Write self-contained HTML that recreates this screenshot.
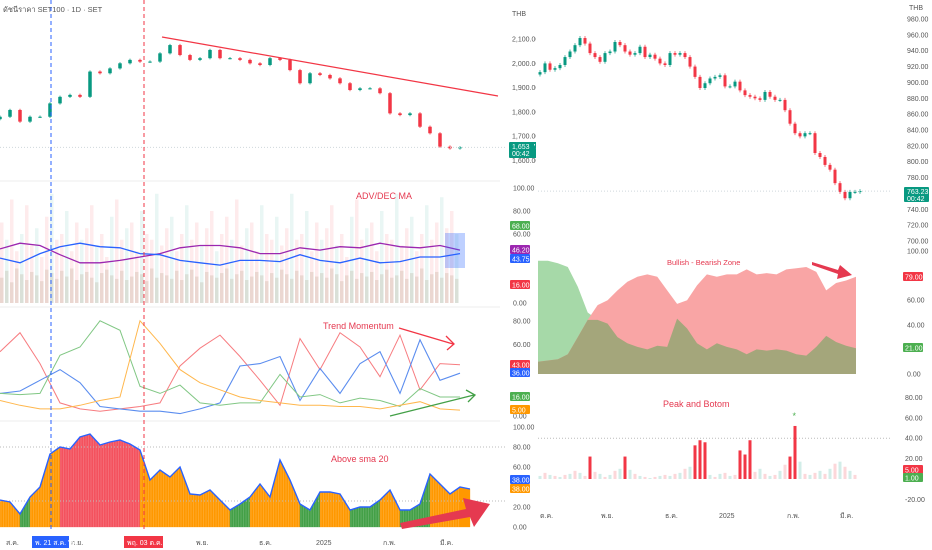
<!DOCTYPE html>
<html><head><meta charset="utf-8">
<style>
html,body{margin:0;padding:0;background:#fff;}
svg{display:block;font-family:"Liberation Sans","Noto Sans CJK SC","Noto Sans CJK JP",sans-serif;}
.ax{font-size:7px;fill:#555;}
.ttl{font-size:7.5px;fill:#555;}
.pl{font-size:9px;fill:#e53950;}
</style></head>
<body>
<svg id="c" width="932" height="550" viewBox="0 0 932 550"></svg>
<script>
// ---------- LEFT (SET100) DATA ----------
const leftCloses=[1780,1808,1760,1780,1780,1835,1862,1870,1862,1966,1959,1979,2000,2014,2007,2007,2041,2075,2034,2014,2021,2055,2021,2021,2014,2000,1993,2021,2014,1972,1918,1959,1952,1938,1918,1890,1897,1897,1877,1794,1787,1794,1739,1712,1657,1650,1654];
const leftPriceTicks=[2100,2000,1900,1800,1700,1600];
const advVals=[70,55,90,45,60,85,50,65,40,75,95,55,60,80,45,70,55,65,85,50,60,40,75,90,55,65,70,45,80,60,55,95,50,65,75,45,60,85,55,70,50,65,80,45,60,75,55,90,50,65,70,45,85,60,55,75,50,65,95,55,60,80,45,70,55,65,85,50,60,40,75,90,55,65,70,45,80,60,55,95,50,65,75,45,60,85,55,70,92,65,80,60];
const advBase=[22,28,18,30,25,20,27,24,19,29,26,21,28,23,30,20,25,27,22,18,26,29,24,21,28,20,23,27,25,19,30,22,26,24,21,28,20,25,29,23,18,27,24,22,26,30,21,25,28,20,23,27,24,19,26,22,29,25,21,28,24,20,27,23,26,22,30,25,19,24,28,21,26,23,27,20,25,29,22,24,28,21,26,23,30,20,25,27,22,26,24,21];
const advPurple=[47,52,50,42,35,35,37,40,43,48,50,50,48,43,43,48,46,49,48,52,49,48,50,46];
const advBlue=[39,35,43,49,52,49,48,43,42,37,35,33,37,37,36,42,37,35,39,35,36,40,40,43];
const tmRed=[54,70,44,11,6,4,6,8,11,42,57,68,50,30,9,65,39,70,58,33,68,22,44,43];
const tmBlue=[19,21,30,39,28,8,6,4,4,2,6,11,42,44,50,13,40,19,44,54,19,64,30,36];
const tmGreen=[19,18,19,51,58,80,72,25,19,26,11,9,11,11,35,16,18,11,15,13,8,23,16,16];
const tmOrange=[13,9,6,6,9,13,16,80,61,39,28,22,16,13,11,9,9,8,8,6,9,12,6,5];
const asmaVals=[27,25,13,30,40,73,80,78,90,93,82,85,87,83,77,47,57,50,60,33,32,37,27,17,23,30,43,30,67,47,23,17,35,35,33,17,20,20,27,37,17,17,23,53,43,33,40,38];
// ---------- RIGHT (SET50) DATA ----------
const rightCloses=[913,924,916,918,922,932,939,947,956,949,937,932,926,937,939,951,947,939,935,937,945,932,935,930,924,922,937,935,937,932,920,907,893,899,905,907,909,895,895,901,890,884,882,880,878,888,882,878,878,865,848,836,832,836,836,811,806,796,790,773,762,754,762,762,763];
const rightPriceTicks=[980,960,940,920,900,880,860,840,820,800,780,740,720,700];
const bullish=[92,92,90,87,71,50,44,41,30,25,22,20,23,22,45,37,25,20,25,22,20,16,20,19,20,19,16,15,22,31,26,23,21];
const bearish=[10,11,12,16,30,44,56,60,68,75,79,81,79,68,57,60,72,81,79,81,81,85,81,82,81,85,86,87,83,68,74,76,79];
const pbVals=[3,6,4,3,2,4,5,8,6,3,22,7,5,2,4,8,10,22,9,5,3,2,1,2,3,4,3,5,6,10,12,33,38,36,4,2,5,6,3,4,28,24,38,7,10,5,3,4,8,14,22,52,17,5,4,6,8,5,10,15,17,12,8,4];

const S=document.getElementById('c');
const NS='http://www.w3.org/2000/svg';
function mk(tag,attrs,parent){const e=document.createElementNS(NS,tag);for(const k in attrs)e.setAttribute(k,attrs[k]);(parent||S).appendChild(e);return e;}
function txt(x,y,s,cls,extra){const e=mk('text',Object.assign({x:x,y:y,class:cls},extra||{}));e.textContent=s;return e;}
function wtxt(x,y,s){const e=mk('text',{x:x,y:y,style:'font-size:7px;fill:#ffffff'});e.textContent=s;return e;}
function fmt(v){return v.toFixed(2).replace(/\B(?=(\d{3})+(?!\d))/g,',');}
const yLP=v=>39+(2100-v)*0.243;
const yAD=v=>303-v*1.15;
const yTM=v=>416-v*1.19;
const yAS=v=>527-v*1.0;
const yRP=v=>19+(980-v)*0.793;
const yBB=v=>374-v*1.23;
const yPB=v=>479-v*1.02;

[[0,181,500],[0,307,500],[0,421,500]].forEach(a=>{const l=mk('line',{x1:a[0],x2:a[2],y1:a[1],y2:a[1],stroke:'#eeeeee'});});
[[538,247,890],[538,392,890]].forEach(a=>{const l=mk('line',{x1:a[0],x2:a[2],y1:a[1],y2:a[1],stroke:'#eeeeee'});});

let t=txt(3,12,'ดัชนีราคา SET100 · 1D · SET','ttl');
t=txt(541,12,'ดัชนีราคา SET50 · 1D · SET','ttl');

// ---------- LEFT price ----------
const gL=mk('g',{});
mk('line',{x1:0,x2:505,y1:yLP(1654),y2:yLP(1654),stroke:'#cfd8dc','stroke-dasharray':'1,2'});
leftCloses.forEach((c,i)=>{
  const o=i?leftCloses[i-1]:c-10;const x=i*10;const up=c>=o;const col=up?'#089981':'#f23645';
  const hi=Math.max(o,c)+5,lo=Math.min(o,c)-5;
  mk('line',{x1:x,x2:x,y1:yLP(hi),y2:yLP(lo),stroke:col,'stroke-width':0.8},gL);
  const r=mk('rect',{x:x-1.75,y:yLP(Math.max(o,c)),width:3.5,height:Math.max(1,Math.abs(yLP(o)-yLP(c))),fill:col},gL);
  
});
let tl=mk('line',{x1:162,y1:37,x2:498,y2:96,stroke:'#f23645','stroke-width':1.2});
txt(512,16,'THB','ax');
leftPriceTicks.forEach(v=>{const e=txt(512,yLP(v)+2.5,fmt(v),'ax');});
let b=mk('rect',{x:509,y:142,width:28,height:16,fill:'#089981',rx:1});
wtxt(512,149,'1,653.71');wtxt(512,156,'00:42');

// ---------- ADV/DEC ----------
const gA=mk('g',{});
advVals.forEach((v,i)=>{const x=i*5;const r=mk('rect',{x:x,y:yAD(v),width:3.5,height:303-yAD(v),fill:(i%3===1)?'rgba(8,153,129,0.09)':'rgba(242,54,69,0.10)'},gA);});
advBase.forEach((v,i)=>{const x=i*5;const r=mk('rect',{x:x,y:yAD(v),width:3.5,height:303-yAD(v),fill:'rgba(150,130,90,0.18)'},gA);});
function line(arr,yf,col,w,name,step){const p=arr.map((v,i)=>(i*step).toFixed(1)+','+yf(v).toFixed(1)).join(' ');const e=mk('polyline',{points:p,fill:'none',stroke:col,'stroke-width':w});return e;}
line(advPurple,yAD,'#9c27b0',1.3,'adv-ma-line',460/23);
line(advBlue,yAD,'#2962ff',1.3,'dec-ma-line',460/23);
let hr=mk('rect',{x:445,y:233,width:20,height:35,fill:'rgba(41,98,255,0.3)'});
t=txt(356,199,'ADV/DEC MA','pl');
[[100,'100.00'],[80,'80.00'],[60,'60.00'],[0,'0.00']].forEach(a=>{const e=txt(513,yAD(a[0])+2.5,a[1],'ax');});
function badge(x,y,s,col,name){const r=mk('rect',{x:x,y:y-5,width:20,height:9,fill:col,rx:1});wtxt(x+2,y+2.5,s);}
badge(510,226,'68.00','#4caf50','adv-badge-68');
badge(510,250,'46.20','#9c27b0','adv-badge-purple');
badge(510,259,'43.75','#2962ff','adv-badge-blue');
badge(510,285,'16.00','#f23645','adv-badge-red');

// ---------- Trend Momentum ----------
line(tmRed,yTM,'#f77c80',1,'tm-red-line',20);
line(tmBlue,yTM,'#5b8def',1.1,'tm-blue-line',20);
line(tmGreen,yTM,'#81c784',1,'tm-green-line',20);
line(tmOrange,yTM,'#ffb74d',1,'tm-orange-line',20);
t=txt(323,329,'Trend Momentum','pl');
[[80,'80.00'],[60,'60.00'],[0,'0.00']].forEach(a=>{const e=txt(513,yTM(a[0])+2.5,a[1],'ax');});
badge(510,365,'43.00','#f23645','tm-badge-red');
badge(510,373,'36.00','#2962ff','tm-badge-blue');
badge(510,397,'16.00','#4caf50','tm-badge-green');
badge(510,410,'5.00','#ff9800','tm-badge-orange');
let ar=mk('path',{d:'M399,328 L453,344 M446,336 L454,344 L447,350',stroke:'#f23645','stroke-width':1.3,fill:'none'});
ar=mk('path',{d:'M390,416 L474,395 M466,390 L475,395 L468,402',stroke:'#43a047','stroke-width':1.3,fill:'none'});

// ---------- Above SMA 20 ----------
const gS=mk('g',{});
mk('line',{x1:0,x2:505,y1:yAS(80),y2:yAS(80),stroke:'#bbb','stroke-dasharray':'1,2'});
mk('line',{x1:0,x2:505,y1:yAS(26),y2:yAS(26),stroke:'#bbb','stroke-dasharray':'1,2'});
asmaVals.forEach((v,i)=>{if(i===asmaVals.length-1)return;const x=i*10;const v2=asmaVals[i+1];
  const col=(v>=75&&v2>=70)?'#f4525e':(v<=23?'#43a047':'#ff9800');
  const p=mk('polygon',{points:`${x},527 ${x},${yAS(v)} ${x+10},${yAS(v2)} ${x+10},527`,fill:col,stroke:col,'stroke-width':0.3},gS);
  });
for(let x=1;x<460;x+=2.5){mk('line',{x1:x,x2:x,y1:430,y2:527,stroke:'rgba(255,255,255,0.25)','stroke-width':0.6},gS);}
line(asmaVals,yAS,'#2962ff',1.4,'sma-outline',10);
t=txt(331,462,'Above sma 20','pl');
[[100,'100.00'],[80,'80.00'],[60,'60.00'],[20,'20.00'],[0,'0.00']].forEach(a=>{const e=txt(513,yAS(a[0])+2.5,a[1],'ax');});
badge(510,480,'38.00','#2962ff','sma-badge-blue');
badge(510,489,'38.00','#ff9800','sma-badge-orange');
ar=mk('polygon',{points:'400,523 466,509 463,498 490,504 474,527 470,517 402,529',fill:'#e53950'});

let v1=mk('line',{x1:51,x2:51,y1:0,y2:532,stroke:'#2962ff','stroke-dasharray':'4,3'});
let v2=mk('line',{x1:144,x2:144,y1:0,y2:532,stroke:'#f23645','stroke-dasharray':'4,3'});

[[6,'ส.ค.'],[71,'ก.ย.'],[196,'พ.ย.'],[259,'ธ.ค.'],[316,'2025'],[383,'ก.พ.'],[440,'มี.ค.']].forEach(a=>{const e=txt(a[0],545,a[1],'ax');});
b=mk('rect',{x:32,y:536,width:37,height:12,fill:'#2962ff'});
wtxt(35,545,'พ. 21 ส.ค. \'24');
b=mk('rect',{x:124,y:536,width:39,height:12,fill:'#f23645'});
wtxt(127,545,'พฤ. 03 ต.ค. \'24');

mk('rect',{x:536,y:0,width:396,height:550,fill:'#fff'});
mk('rect',{x:530,y:142,width:4,height:16,fill:'#089981'});

// ---------- RIGHT price ----------
const gR=mk('g',{});
mk('line',{x1:538,x2:892,y1:yRP(763),y2:yRP(763),stroke:'#cfd8dc','stroke-dasharray':'1,2'});
rightCloses.forEach((c,i)=>{
  const o=i?rightCloses[i-1]:c-3;const x=540+i*5;const col=c>=o?'#089981':'#f23645';
  const hi=Math.max(o,c)+2.5,lo=Math.min(o,c)-2.5;
  mk('line',{x1:x,x2:x,y1:yRP(hi),y2:yRP(lo),stroke:col,'stroke-width':0.7},gR);
  const r=mk('rect',{x:x-1.5,y:yRP(Math.max(o,c)),width:3,height:Math.max(1,Math.abs(yRP(o)-yRP(c))),fill:col},gR);
  
});
txt(909,10,'THB','ax');
rightPriceTicks.forEach(v=>{const e=txt(907,yRP(v)+2.5,fmt(v),'ax');});
b=mk('rect',{x:904,y:187,width:25,height:15,fill:'#089981',rx:1});
wtxt(907,194,'763.23');wtxt(907,201,'00:42');

// ---------- Bullish-Bearish ----------
const xb=i=>538+i*(318/32);
function area(arr,col,name){const p=['538,374'].concat(arr.map((v,i)=>xb(i).toFixed(1)+','+yBB(v).toFixed(1))).concat([xb(arr.length-1).toFixed(1)+',374']).join(' ');const e=mk('polygon',{points:p,fill:col});}
area(bullish,'#a6d9a8','bullish-area');
area(bearish,'#f9a5a5','bearish-area');
area(bullish.map((v,i)=>Math.min(v,bearish[i])),'#a4a67b','overlap-area');
t=txt(667,265,'Bullish - Bearish Zone','pl',{style:'font-size:7.5px'});
[[100,'100.00'],[60,'60.00'],[40,'40.00'],[0,'0.00']].forEach(a=>{const e=txt(907,yBB(a[0])+2.5,a[1],'ax');});
badge(903,277,'79.00','#f23645','bb-badge-red');
badge(903,348,'21.00','#4caf50','bb-badge-green');
ar=mk('polygon',{points:'812,262 838,270 840,265 852,275 837,279 838,274 812,265',fill:'#e53950'});

// ---------- Peak and Bottom ----------
mk('line',{x1:538,x2:892,y1:yPB(40),y2:yPB(40),stroke:'#bbb','stroke-dasharray':'1,2'});
pbVals.forEach((v,i)=>{const x=540+i*5;const red=v>=20;const col=red?'#f23645':(i%2?'rgba(242,54,69,0.2)':'rgba(8,153,129,0.18)');
  const r=mk('rect',{x:x-1.5,y:yPB(v),width:3,height:479-yPB(v),fill:col});
  if(v>=50){const s=mk('text',{x:x-2.5,y:yPB(v)-7,style:'font-size:9px;fill:#4caf50'});s.textContent='*';}
});
t=txt(663,407,'Peak and Botom','pl');
[[80,'80.00'],[60,'60.00'],[40,'40.00'],[20,'20.00'],[-20,'-20.00']].forEach(a=>{const e=txt(905,yPB(a[0])+2.5,a[1],'ax');});
badge(903,470,'5.00','#f23645','pb-badge-red');
badge(903,478,'1.00','#4caf50','pb-badge-green');
[[540,'ต.ค.'],[601,'พ.ย.'],[665,'ธ.ค.'],[719,'2025'],[787,'ก.พ.'],[840,'มี.ค.']].forEach(a=>{const e=txt(a[0],518,a[1],'ax');});
</script>
</body></html>
